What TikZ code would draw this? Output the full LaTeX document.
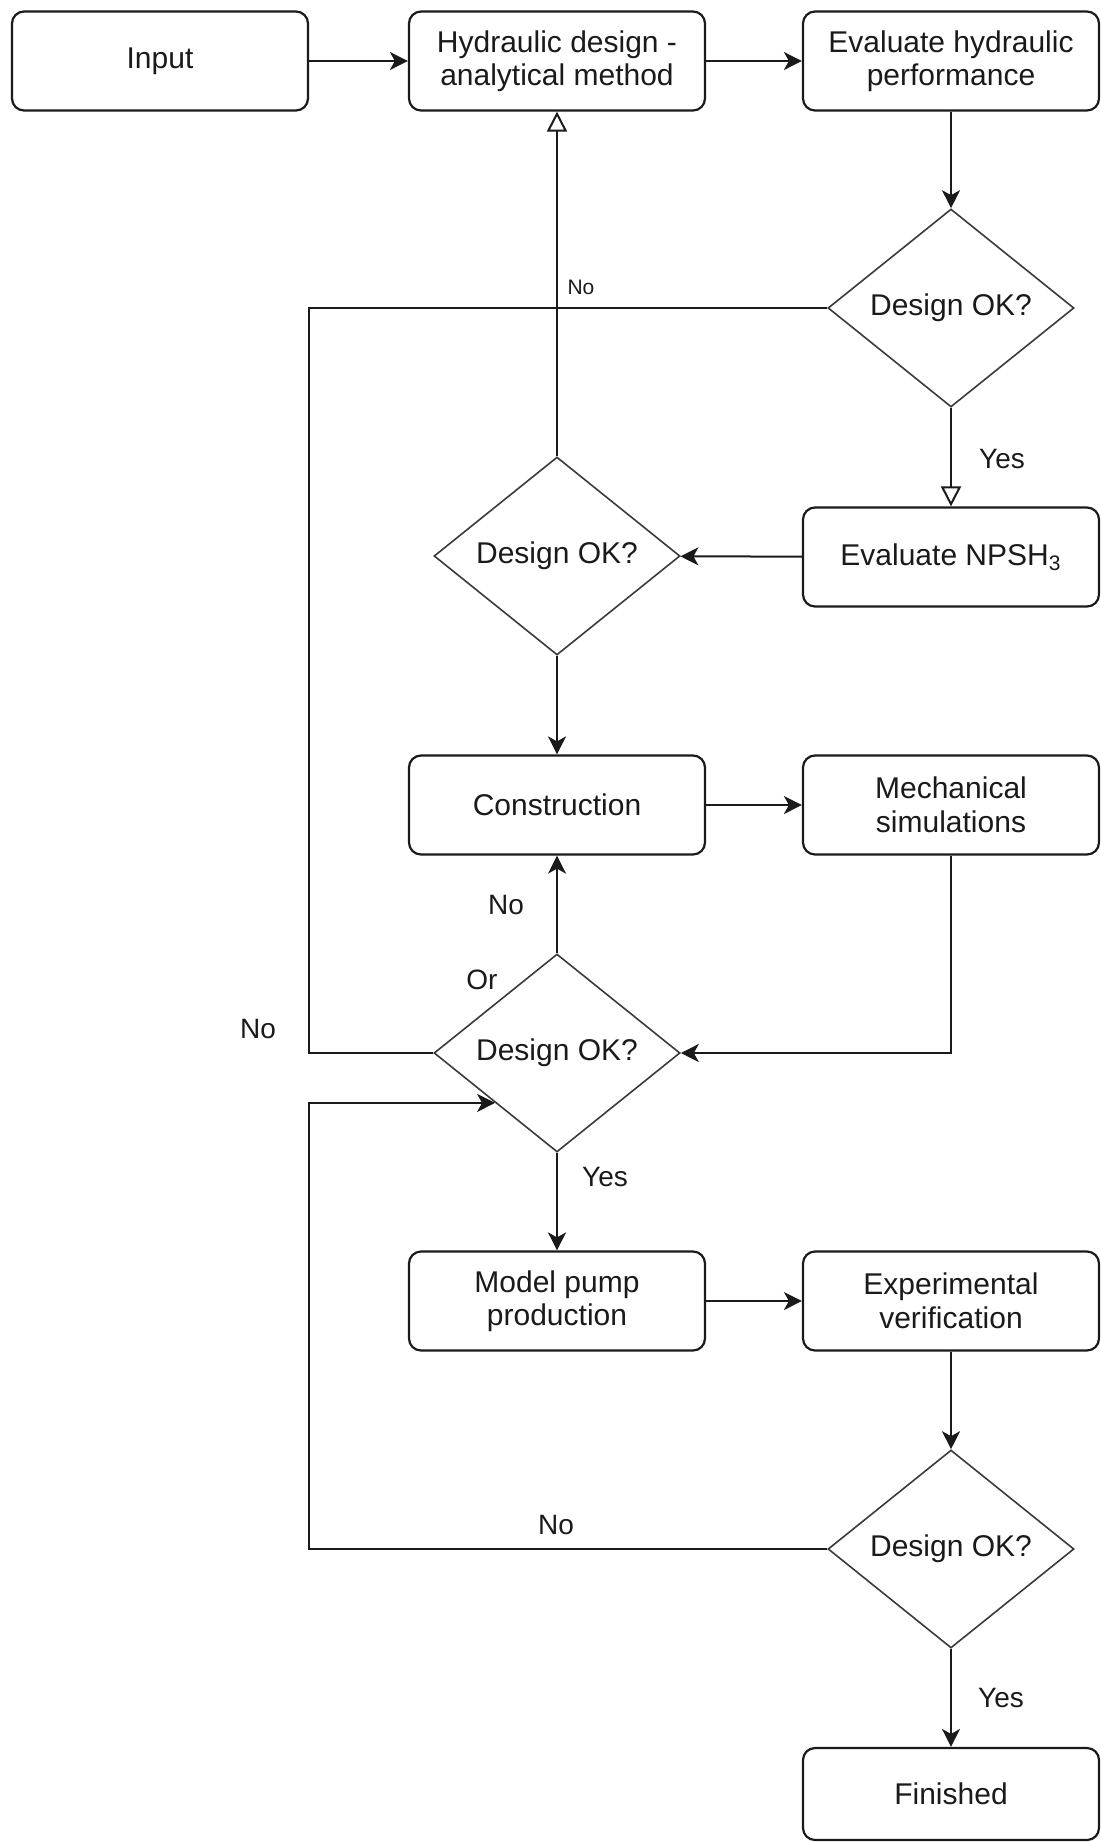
\documentclass[tikz,border=0pt]{standalone}
\usepackage{fontspec}
\setmainfont{Liberation Sans}
\usetikzlibrary{shapes.geometric,arrows.meta,calc}
\definecolor{ink}{HTML}{1A1A1A}
\definecolor{dline}{HTML}{3A3A3A}
\begin{document}
\begin{tikzpicture}[x=0.5pt,y=-0.5pt,
  box/.style={draw=ink, line width=1.1pt, rounded corners=6pt, minimum width=148pt,
    minimum height=49.5pt, align=center, inner sep=0pt,
    font=\fontsize{15}{16.75}\selectfont, text=ink},
  decision/.style={draw=dline, line width=0.8pt, diamond, minimum width=123pt,
    minimum height=99pt, inner sep=0pt, align=center,
    font=\fontsize{15}{16.75}\selectfont, text=ink},
  conn/.style={draw=ink, line width=1pt},
  arr/.style={conn, -{Stealth[length=9pt,width=9pt,inset=2.5pt]}},
  oarr/.style={conn, -{Triangle[open,length=10pt,width=10pt,fill=white]}},
  lbl/.style={font=\fontsize{14}{16}\selectfont, text=ink, inner sep=0pt},
  slbl/.style={font=\fontsize{10.5}{12}\selectfont, text=ink, inner sep=0pt}]
\useasboundingbox (0,0) rectangle (1101,1842);

% nodes
\node[box] (input) at (160,61) {Input};
\node[box] (hyd) at (557,61) {Hydraulic design -\\analytical method};
\node[box] (evh) at (951,61) {Evaluate hydraulic\\performance};
\node[decision] (d1) at (951,308) {Design OK?};
\node[box] (npsh) at (951,557) {Evaluate NPSH\textsubscript{3}};
\node[decision] (d2) at (557,556) {Design OK?};
\node[box] (cons) at (557,805) {Construction};
\node[box] (mech) at (951,805) {Mechanical\\simulations};
\node[decision] (d3) at (557,1053) {Design OK?};
\node[box] (model) at (557,1301) {Model pump\\production};
\node[box] (exper) at (951,1301) {Experimental\\verification};
\node[decision] (d4) at (951,1549) {Design OK?};
\node[box, minimum height=46pt] (fin) at (951,1794) {Finished};

\coordinate (loopx) at (309,0);
\coordinate (entry) at ($(d3.west)!0.5!(d3.south)$);

% connectors
\draw[arr] (input) -- (hyd);
\draw[arr] (hyd) -- (evh);
\draw[arr] (evh) -- (d1);
\draw[oarr] (d1) -- (npsh);
\draw[arr] (npsh) -- (d2);
\draw[oarr] (d2) -- (hyd);
\draw[arr] (d2) -- (cons);
\draw[arr] (cons) -- (mech);
\draw[arr] (mech.south) |- (d3.east);
\draw[arr] (d3) -- (cons);
\draw[conn] (d3.west) -- (d3.west -| loopx) -- (d1.west -| loopx) -- (d1.west);
\draw[arr] (d3) -- (model);
\draw[arr] (model) -- (exper);
\draw[arr] (exper) -- (d4);
\draw[arr] (d4.west) -- (d4.west -| loopx) -- (entry -| loopx) -- (entry);
\draw[arr] (d4) -- (fin);

% labels
\node[slbl] (lno1) at (581,287) {No};
\node[lbl] (lyes1) at (1002,459) {Yes};
\node[lbl] (lno2) at (506,905) {No};
\node[lbl] (lor) at (482,980) {Or};
\node[lbl] (lno3) at (258,1029) {No};
\node[lbl] (lyes2) at (605,1177) {Yes};
\node[lbl] (lno4) at (556,1525) {No};
\node[lbl] (lyes3) at (1001,1698) {Yes};
\end{tikzpicture}
\end{document}
